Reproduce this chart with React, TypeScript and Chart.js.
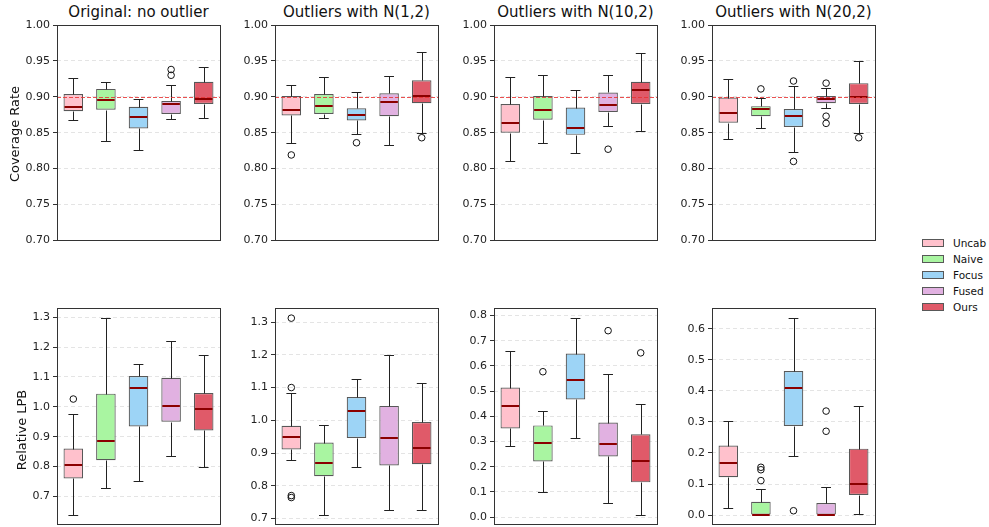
import React, { useEffect, useRef } from 'react';
import { Chart, registerables } from 'chart.js';
Chart.register(...registerables);
Chart.defaults.font.family = "'DejaVu Sans', sans-serif";

const methods = ['Uncab', 'Naive', 'Focus', 'Fused', 'Ours'];
const fillColors = ['#FFC1CC', '#A9F5A1', '#9DD4F6', '#E1B1E1', '#E05A69'];
const titles = ['Original: no outlier', 'Outliers with N(1,2)', 'Outliers with N(10,2)', 'Outliers with N(20,2)'];

// each row: [whisker low, Q1, median, Q3, whisker high]
const covOriginal = [
  [0.867, 0.880, 0.886, 0.904, 0.926],
  [0.839, 0.882, 0.896, 0.911, 0.920],
  [0.826, 0.856, 0.872, 0.886, 0.897],
  [0.869, 0.876, 0.890, 0.894, 0.917],
  [0.871, 0.890, 0.897, 0.921, 0.941],
];
const covOriginalOut = [[], [], [], [0.930, 0.938], []];

const covN1 = [
  [0.835, 0.874, 0.881, 0.901, 0.917],
  [0.870, 0.876, 0.887, 0.904, 0.928],
  [0.848, 0.867, 0.875, 0.884, 0.906],
  [0.833, 0.873, 0.893, 0.905, 0.929],
  [0.849, 0.891, 0.901, 0.923, 0.963],
];
const covN1Out = [[0.819], [], [0.836], [], [0.843]];

const covN10 = [
  [0.811, 0.850, 0.864, 0.890, 0.927],
  [0.836, 0.868, 0.882, 0.901, 0.931],
  [0.822, 0.847, 0.857, 0.885, 0.910],
  [0.860, 0.879, 0.889, 0.906, 0.930],
  [0.853, 0.890, 0.910, 0.921, 0.961],
];
const covN10Out = [[], [], [], [0.827], []];

const covN20 = [
  [0.841, 0.864, 0.877, 0.899, 0.925],
  [0.856, 0.873, 0.883, 0.887, 0.899],
  [0.823, 0.858, 0.873, 0.883, 0.915],
  [0.884, 0.891, 0.897, 0.901, 0.912],
  [0.849, 0.890, 0.900, 0.919, 0.950],
];
const covN20Out = [[], [0.911], [0.810, 0.922], [0.863, 0.873, 0.919], [0.843]];

const lpbOriginal = [
  [0.638, 0.760, 0.806, 0.860, 0.975],
  [0.727, 0.821, 0.886, 1.044, 1.298],
  [0.752, 0.934, 1.063, 1.103, 1.145],
  [0.834, 0.950, 1.004, 1.097, 1.219],
  [0.797, 0.921, 0.992, 1.046, 1.174],
];
const lpbOriginalOut = [[1.026], [], [], [], []];

const lpbN1 = [
  [0.879, 0.911, 0.948, 0.983, 1.084],
  [0.711, 0.829, 0.871, 0.932, 0.986],
  [0.856, 0.946, 1.027, 1.071, 1.125],
  [0.726, 0.862, 0.945, 1.044, 1.200],
  [0.726, 0.866, 0.914, 0.995, 1.115],
];
const lpbN1Out = [[0.764, 0.770, 1.100, 1.312], [], [], [], []];

const lpbN10 = [
  [0.281, 0.352, 0.441, 0.514, 0.661],
  [0.101, 0.221, 0.293, 0.364, 0.422],
  [0.315, 0.467, 0.543, 0.649, 0.790],
  [0.057, 0.241, 0.290, 0.375, 0.568],
  [0.009, 0.138, 0.221, 0.329, 0.449],
];
const lpbN10Out = [[], [0.577], [], [0.740], [0.652]];

const lpbN20 = [
  [0.022, 0.122, 0.167, 0.224, 0.303],
  [0.0, 0.0, 0.0, 0.043, 0.084],
  [0.191, 0.287, 0.410, 0.464, 0.634],
  [0.0, 0.0, 0.0, 0.039, 0.091],
  [0.005, 0.065, 0.100, 0.214, 0.350],
];
const lpbN20Out = [[], [0.111, 0.146, 0.154], [0.014], [0.270, 0.335], []];

const covRange = [0.70, 1.00];
const lpbRanges = [[0.606, 1.331], [0.682, 1.343], [-0.029, 0.830], [-0.030, 0.667]];
const targetCoverage = 0.90;

const plotLefts = [57, 275, 494, 712];
const plotW = 163;
const PAD_T = 10, PAD_R = 6, PAD_B = 8, AXIS_W = 50;

type Spec = {
  stats: number[][]; out: number[][]; min: number; max: number; step: number; dec: number;
  refLine: number | null; left: number; top: number; h: number;
};

function BoxPanel({ spec }: { spec: Spec }) {
  const ref = useRef<HTMLCanvasElement>(null);
  useEffect(() => {
    const extras = {
      id: 'boxExtras',
      afterDatasetsDraw(chart: any) {
        const ctx = chart.ctx, xs = chart.scales.x, ys = chart.scales.y, a = chart.chartArea;
        const unit = xs.getPixelForValue(1) - xs.getPixelForValue(0);
        const py = (v: number) => Math.round(ys.getPixelForValue(v)) + 0.5;
        ctx.save();
        spec.stats.forEach((s, i) => {
          const [lo, q1, med, q3, hi] = s;
          const cx = xs.getPixelForValue(i);
          const xc = Math.round(cx) + 0.5;
          const cap = unit * 0.15;
          const half = unit * 0.3;
          ctx.strokeStyle = '#222';
          ctx.lineWidth = 1;
          ctx.setLineDash([]);
          ctx.beginPath();
          if (hi > q3) { ctx.moveTo(xc, py(q3)); ctx.lineTo(xc, py(hi)); }
          if (lo < q1) { ctx.moveTo(xc, py(q1)); ctx.lineTo(xc, py(lo)); }
          ctx.moveTo(cx - cap, py(hi)); ctx.lineTo(cx + cap, py(hi));
          ctx.moveTo(cx - cap, py(lo)); ctx.lineTo(cx + cap, py(lo));
          ctx.stroke();
          ctx.strokeStyle = '#8B0000';
          ctx.lineWidth = 2;
          const my = Math.round(ys.getPixelForValue(med));
          ctx.beginPath();
          ctx.moveTo(cx - half + 1, my); ctx.lineTo(cx + half - 1, my);
          ctx.stroke();
          ctx.strokeStyle = '#111';
          ctx.lineWidth = 1;
          spec.out[i].forEach((v) => {
            ctx.beginPath();
            ctx.arc(cx, ys.getPixelForValue(v), 3.3, 0, Math.PI * 2);
            ctx.stroke();
          });
        });
        if (spec.refLine !== null) {
          ctx.strokeStyle = 'rgba(232, 50, 50, 0.85)';
          ctx.lineWidth = 1;
          ctx.setLineDash([4, 2]);
          ctx.beginPath();
          const ry = py(spec.refLine);
          ctx.moveTo(a.left, ry); ctx.lineTo(a.right, ry);
          ctx.stroke();
          ctx.setLineDash([]);
        }
        ctx.strokeStyle = '#333';
        ctx.lineWidth = 1;
        ctx.strokeRect(Math.round(a.left) + 0.5, Math.round(a.top) + 0.5,
          Math.round(a.right) - Math.round(a.left), Math.round(a.bottom) - Math.round(a.top));
        ctx.restore();
      },
    };
    const chart = new Chart(ref.current as HTMLCanvasElement, {
      type: 'bar',
      data: {
        labels: methods,
        datasets: [{
          label: 'box',
          data: spec.stats.map((s) => [s[1], s[3]]) as any,
          backgroundColor: fillColors,
          borderColor: '#585858',
          borderWidth: 1.2,
          borderSkipped: false,
          barPercentage: 0.6,
          categoryPercentage: 1.0,
        }],
      },
      options: {
        animation: false,
        responsive: false,
        devicePixelRatio: 1,
        layout: { padding: { left: 0, top: PAD_T, right: PAD_R, bottom: PAD_B } },
        plugins: { legend: { display: false }, tooltip: { enabled: false } },
        scales: {
          x: { type: 'category', display: false, offset: true },
          y: {
            type: 'linear', min: spec.min, max: spec.max,
            afterFit: (s: any) => { s.width = AXIS_W; },
            border: { display: false, dash: [4, 3] },
            grid: {
              color: '#e4e4e4', lineWidth: 1, drawTicks: true, tickLength: 4,
              tickColor: '#333', tickWidth: 1, tickBorderDash: [],
            },
            ticks: {
              stepSize: spec.step, includeBounds: false, padding: 3,
              color: '#222', font: { size: 11 },
              callback: (v: any) => Number(v).toFixed(spec.dec),
            },
          },
        },
      },
      plugins: [extras],
    } as any);
    return () => chart.destroy();
  }, [spec]);
  const w = AXIS_W + plotW + PAD_R;
  const h = PAD_T + spec.h + PAD_B;
  return (
    <canvas ref={ref} width={w} height={h}
      style={{ position: 'absolute', left: spec.left - AXIS_W, top: spec.top - PAD_T, width: w, height: h }} />
  );
}

const covStats = [covOriginal, covN1, covN10, covN20];
const covOuts = [covOriginalOut, covN1Out, covN10Out, covN20Out];
const lpbStats = [lpbOriginal, lpbN1, lpbN10, lpbN20];
const lpbOuts = [lpbOriginalOut, lpbN1Out, lpbN10Out, lpbN20Out];

const topSpecs: Spec[] = covStats.map((st, i) => ({
  stats: st, out: covOuts[i], min: covRange[0], max: covRange[1], step: 0.05, dec: 2,
  refLine: targetCoverage, left: plotLefts[i], top: 25, h: 217,
}));
const bottomSpecs: Spec[] = lpbStats.map((st, i) => ({
  stats: st, out: lpbOuts[i], min: lpbRanges[i][0], max: lpbRanges[i][1], step: 0.1, dec: 1,
  refLine: null, left: plotLefts[i], top: 308, h: 218,
}));

export default function App() {
  return (
    <div style={{ position: 'fixed', left: 0, top: 0, width: 989, height: 527, overflow: 'hidden', background: '#fff', fontFamily: "'DejaVu Sans', sans-serif" }}>
      {titles.map((t, i) => (
        <div key={t} style={{ position: 'absolute', left: plotLefts[i] - 20, width: plotW + 40, top: 5, textAlign: 'center', fontSize: 15, lineHeight: '15px', color: '#111', whiteSpace: 'nowrap' }}>{t}</div>
      ))}
      {topSpecs.map((s, i) => <BoxPanel key={'t' + i} spec={s} />)}
      {bottomSpecs.map((s, i) => <BoxPanel key={'b' + i} spec={s} />)}
      <div style={{ position: 'absolute', left: 14, top: 134, transform: 'translate(-50%, -50%) rotate(-90deg)', fontSize: 13, whiteSpace: 'nowrap', color: '#111' }}>Coverage Rate</div>
      <div style={{ position: 'absolute', left: 21, top: 430, transform: 'translate(-50%, -50%) rotate(-90deg)', fontSize: 13, whiteSpace: 'nowrap', color: '#111' }}>Relative LPB</div>
      {methods.map((m, i) => (
        <React.Fragment key={m}>
          <div style={{ position: 'absolute', left: 922, top: 243 + i * 16 - 4, width: 22, height: 8, boxSizing: 'border-box', background: fillColors[i], border: '1px solid #585858' }} />
          <div style={{ position: 'absolute', left: 953, top: 243 + i * 16 - 7, fontSize: 10.5, lineHeight: '14px', color: '#111', whiteSpace: 'nowrap' }}>{m}</div>
        </React.Fragment>
      ))}
    </div>
  );
}
